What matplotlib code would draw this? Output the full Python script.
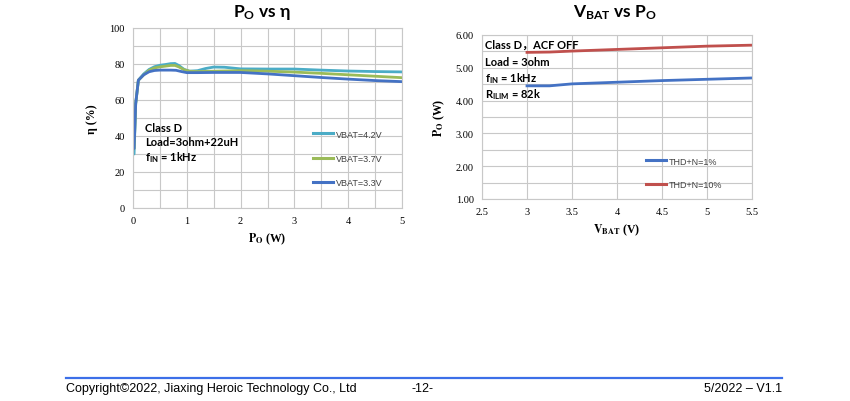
import matplotlib
matplotlib.use("Agg")
import matplotlib.pyplot as plt
from matplotlib.lines import Line2D

plt.rcParams['mathtext.fontset'] = 'custom'
plt.rcParams['mathtext.rm'] = 'Lato'
plt.rcParams['mathtext.bf'] = 'Lato:bold'
plt.rcParams['mathtext.it'] = 'Lato:italic'

# ---- Left chart data: efficiency vs output power ----
po_42 = [0.02, 0.05, 0.1, 0.2, 0.3, 0.4, 0.5, 0.6, 0.7, 0.78, 0.85, 0.95, 1.05, 1.2, 1.35, 1.5, 1.7, 2.0, 2.5, 3.0, 3.5, 4.0, 4.5, 5.0]
eta_42 = [30, 58, 71, 74.5, 77, 78.5, 79.3, 79.7, 80.2, 80.3, 79.2, 77, 76, 76.3, 77.5, 78.3, 78.2, 77.3, 77.2, 77.2, 76.6, 76.1, 75.8, 75.6]
po_37 = [0.02, 0.05, 0.1, 0.2, 0.3, 0.4, 0.5, 0.6, 0.7, 0.78, 0.85, 0.95, 1.05, 1.2, 1.5, 2.0, 2.5, 3.0, 3.5, 4.0, 4.5, 5.0]
eta_37 = [33, 58, 71, 74, 76.5, 77.8, 78.4, 78.8, 79.2, 79.2, 78.4, 76.8, 76, 75.8, 76, 76.3, 76, 75.5, 74.8, 74, 73.2, 72.4]
po_33 = [0.02, 0.05, 0.1, 0.2, 0.3, 0.4, 0.5, 0.6, 0.7, 0.8, 0.9, 1.0, 1.2, 1.5, 2.0, 2.5, 3.0, 3.5, 4.0, 4.5, 5.0]
eta_33 = [33, 58, 71, 74, 75.7, 76.4, 76.6, 76.6, 76.6, 76.5, 75.8, 75.2, 75.2, 75.3, 75.3, 74.5, 73.5, 72.5, 71.6, 70.8, 70.2]
left_labels = ['VBAT=4.2V', 'VBAT=3.7V', 'VBAT=3.3V']
left_colors = ['#4BACC6', '#9BBB59', '#4472C4']

# ---- Right chart data: output power vs battery voltage ----
vbat = [3.0, 3.25, 3.5, 4.0, 4.5, 5.0, 5.5]
po_thd1 = [4.45, 4.45, 4.51, 4.56, 4.61, 4.65, 4.69]
po_thd10 = [5.47, 5.48, 5.51, 5.56, 5.61, 5.66, 5.69]
right_labels = ['THD+N=1%', 'THD+N=10%']
right_colors = ['#4472C4', '#C0504D']

fig = plt.figure(figsize=(8.5, 4.02), dpi=100)
W, H = 850, 402

def axpos(x0, x1, ytop, ybot):
    return [x0 / W, 1 - ybot / H, (x1 - x0) / W, (ybot - ytop) / H]

grid_c = '#C8C8C8'
serif = 'Liberation Serif'

def style(ax):
    for s in ax.spines.values():
        s.set_color(grid_c)
        s.set_linewidth(0.8)
    ax.tick_params(length=0, labelsize=7.5, pad=6)
    for lab in ax.get_xticklabels() + ax.get_yticklabels():
        lab.set_fontfamily(serif)
    ax.grid(True, color=grid_c, linewidth=0.8)
    ax.set_axisbelow(True)

# Left axes
ax1 = fig.add_axes(axpos(133, 402, 29, 209))
ax1.plot(po_42, eta_42, color=left_colors[0], lw=2.0, solid_capstyle='round')
ax1.plot(po_37, eta_37, color=left_colors[1], lw=2.0, solid_capstyle='round')
ax1.plot(po_33, eta_33, color=left_colors[2], lw=2.0, solid_capstyle='round')
ax1.set_xlim(0, 5)
ax1.set_ylim(0, 100)
ax1.set_xticks([0, 1, 2, 3, 4, 5])
ax1.set_xticks([0.5, 1.5, 2.5, 3.5, 4.5], minor=True)
ax1.set_yticks([0, 20, 40, 60, 80, 100])
ax1.set_yticks([10, 30, 50, 70, 90], minor=True)
ax1.tick_params(which='minor', length=0)
ax1.grid(True, which='minor', color=grid_c, linewidth=0.8)
style(ax1)
ax1.set_xlabel(r'$\mathbf{P_{O}}$ (W)', fontfamily=serif, fontweight='bold', fontsize=8.5,
               math_fontfamily='stix', labelpad=4)
ax1.set_ylabel('η (%)', fontfamily=serif, fontweight='bold', fontsize=8.5, labelpad=8)
fig.text(262 / W, 1 - 13 / H, r'$\mathbf{P_{O}}$ vs η', ha='center', va='center',
         fontsize=12.5, fontweight='bold', fontfamily='Lato')

ax1.text(145 / W, 1 - 129 / H, 'Class D', transform=fig.transFigure, fontsize=8,
         fontweight='bold', fontfamily='Lato', va='center')
ax1.text(145 / W, 1 - 143 / H, 'Load=3ohm+22uH', transform=fig.transFigure, fontsize=8,
         fontweight='bold', fontfamily='Lato', va='center')
ax1.text(145 / W, 1 - 158 / H, r'f$_{\mathbf{IN}}$ = 1kHz', transform=fig.transFigure, fontsize=8,
         fontweight='bold', fontfamily='Lato', va='center')

h1 = [Line2D([], [], color=c, lw=2.2) for c in left_colors]
leg1 = ax1.legend(h1, left_labels, loc='upper left', bbox_to_anchor=(308 / W, 1 - 126 / H),
                  bbox_transform=fig.transFigure, frameon=False, fontsize=6.5,
                  handlelength=2.3, handletextpad=0.3, labelspacing=1.7, borderpad=0)
for t in leg1.get_texts():
    t.set_color('#404040')
    t.set_fontfamily('Liberation Sans')

# Right axes
ax2 = fig.add_axes(axpos(482, 752, 36, 200))
ax2.plot(vbat, po_thd1, color=right_colors[0], lw=2.0)
ax2.plot(vbat, po_thd10, color=right_colors[1], lw=2.0)
ax2.set_xlim(2.5, 5.5)
ax2.set_ylim(1, 6)
ax2.set_xticks([2.5, 3, 3.5, 4, 4.5, 5, 5.5])
ax2.set_xticklabels(['2.5', '3', '3.5', '4', '4.5', '5', '5.5'])
ax2.set_yticks([1, 2, 3, 4, 5, 6])
ax2.set_yticklabels(['1.00', '2.00', '3.00', '4.00', '5.00', '6.00'])
ax2.set_yticks([1.5, 2.5, 3.5, 4.5, 5.5], minor=True)
ax2.tick_params(which='minor', length=0)
ax2.grid(True, which='minor', axis='y', color=grid_c, linewidth=0.8)
style(ax2)
ax2.set_xlabel(r'$\mathbf{V_{BAT}}$ (V)', fontfamily=serif, fontweight='bold', fontsize=8.5,
               math_fontfamily='stix', labelpad=4)
ax2.set_ylabel(r'$\mathbf{P_{O}}$ (W)', fontfamily=serif, fontweight='bold', fontsize=8.5,
               math_fontfamily='stix', labelpad=6)
fig.text(615 / W, 1 - 13 / H, r'$\mathbf{V_{BAT}}$ vs $\mathbf{P_{O}}$', ha='center', va='center',
         fontsize=12.5, fontweight='bold', fontfamily='Lato')

ann_fam = ['Lato', 'Noto Sans CJK SC']
fig.text(485 / W, 1 - 45 / H, 'Class D，ACF OFF', fontsize=8, fontweight='bold',
         fontfamily=ann_fam, va='center')
fig.text(485 / W, 1 - 62 / H, 'Load = 3ohm', fontsize=8, fontweight='bold',
         fontfamily='Lato', va='center')
fig.text(485 / W, 1 - 79 / H, r'f$_{\mathbf{IN}}$ = 1kHz', fontsize=8, fontweight='bold',
         fontfamily='Lato', va='center')
fig.text(485 / W, 1 - 95 / H, r'R$_{\mathbf{ILIM}}$ = 82k', fontsize=8, fontweight='bold',
         fontfamily='Lato', va='center')

h2 = [Line2D([], [], color=c, lw=2.2) for c in right_colors]
leg2 = ax2.legend(h2, right_labels, loc='upper left', bbox_to_anchor=(641 / W, 1 - 153 / H),
                  bbox_transform=fig.transFigure, frameon=False, fontsize=6.5,
                  handlelength=2.3, handletextpad=0.3, labelspacing=1.6, borderpad=0)
for t in leg2.get_texts():
    t.set_color('#404040')
    t.set_fontfamily('Liberation Sans')

# Footer
fig.add_artist(Line2D([66 / W, 782 / W], [1 - 379 / H, 1 - 379 / H], color='#3C6FE8', lw=1.6,
                      transform=fig.transFigure))
fig.text(66 / W, 1 - 389 / H, 'Copyright©2022, Jiaxing Heroic Technology Co., Ltd', fontsize=9,
         fontfamily='Liberation Sans', va='center', ha='left')
fig.text(423 / W, 1 - 389 / H, '-12-', fontsize=9, fontfamily='Liberation Sans', va='center', ha='center')
fig.text(782 / W, 1 - 389 / H, '5/2022 – V1.1', fontsize=9, fontfamily='Liberation Sans',
         va='center', ha='right')

fig.savefig('out.png', dpi=100)
